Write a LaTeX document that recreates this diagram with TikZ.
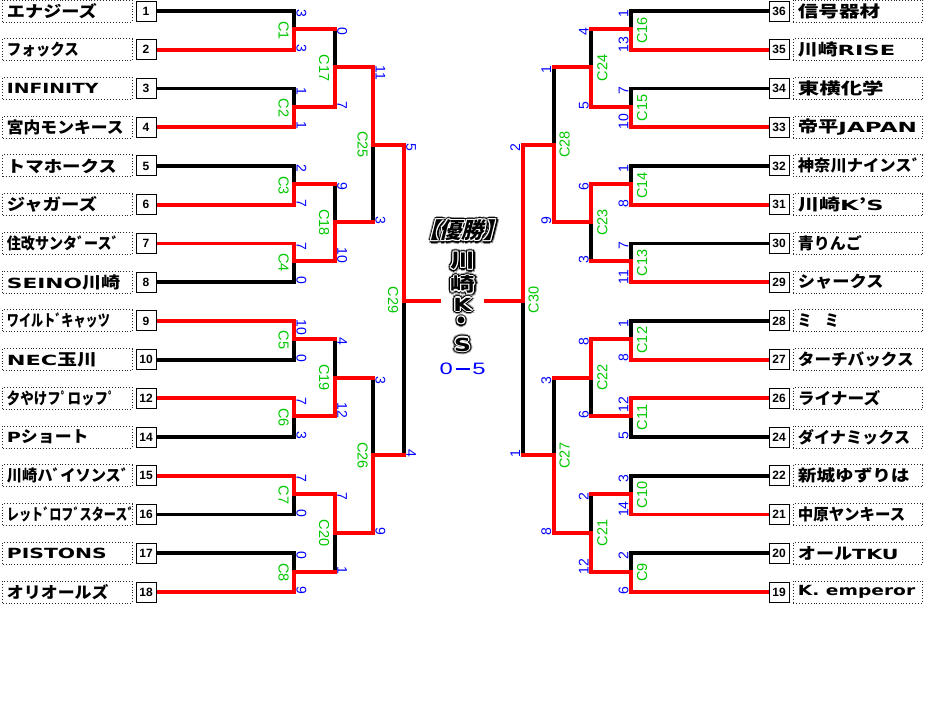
\documentclass[tikz,border=0pt]{standalone}
\usepackage{fontspec}
\setmainfont{Liberation Sans}
\newfontfamily\jp{Noto Sans CJK JP}
\newfontfamily\jpw{Noto Sans CJK JP}[FakeStretch=1.3]
\newfontfamily\jpsl{Noto Sans CJK JP}[FakeSlant=0.25]
\newfontfamily\lat{DejaVu Sans}[FakeStretch=1.3]
\definecolor{wred}{RGB}{255,0,0}
\definecolor{sblue}{RGB}{0,0,255}
\definecolor{cgreen}{RGB}{0,200,0}
\pgfdeclarelayer{bg}\pgfdeclarelayer{wires}
\pgfsetlayers{bg,wires,main}
\newcommand\fitname[2]{\resizebox{#1pt}{\height}{#2}}
\newcommand\la[1]{{\fontsize{14}{14}\lat #1}}
\newcommand\lmatch[6]{%
  \node[clab, rotate=-90] (#4) at ({#1-10.5}, {(#2+#3)/2}) {#4};
  \node[sc, rotate=-90, anchor=west] (#4t) at ({#1+7.5}, {#2-1.5}) {#5};
  \node[sc, rotate=-90, anchor=east] (#4b) at ({#1+7.5}, {#3+2.5}) {#6};}
\newcommand\rmatch[6]{%
  \node[clab, rotate=90] (#4) at ({#1+11}, {(#2+#3)/2}) {#4};
  \node[sc, rotate=90, anchor=east] (#4t) at ({#1-7.5}, {#2-1.5}) {#5};
  \node[sc, rotate=90, anchor=west] (#4b) at ({#1-7.5}, {#3+2.5}) {#6};}
\newcommand\halotext[4]{%
  \foreach \a in {0,45,...,315}{\node[name=#1g\a, text=black!40, font=#3, inner sep=0] at ([shift={(\a:3.4)}]#2) {#4};}%
  \foreach \a in {0,45,...,315}{\node[name=#1k\a, text=black, font=#3, inner sep=0] at ([shift={(\a:2.4)}]#2) {#4};}%
  \foreach \a in {0,45,...,315}{\node[name=#1w\a, text=white, font=#3, inner sep=0] at ([shift={(\a:1.2)}]#2) {#4};}%
  \node[name=#1, text=black, font=#3, inner sep=0] at (#2) {#4};}
\begin{document}
\begin{tikzpicture}[x=1pt,y=-1pt,
  blk/.style={line width=3.8, black, line cap=rect, line join=miter},
  redl/.style={line width=3.8, wred, line cap=rect, line join=miter},
  numbox/.style={draw=black, line width=0.9, fill=white, minimum width=20, minimum height=20, inner sep=0, font=\fontsize{12}{12}\selectfont\bfseries},
  namebox/.style={draw=black!85, dotted, line width=0.9, fill=white, minimum width=129.5, minimum height=22, inner sep=0},
  nametext/.style={inner sep=0, anchor=west, font=\fontsize{16}{16}\jp\bfseries},
  clab/.style={text=cgreen, inner sep=0, font=\fontsize{14.5}{14.5}\selectfont},
  sc/.style={text=sblue, inner sep=0, font=\fontsize{14}{14}\selectfont},
]
\useasboundingbox (0,0) rectangle (928,720);
\begin{pgfonlayer}{bg}
  \fill[white] (0,0) rectangle (928,720);
\end{pgfonlayer}

% left teams
\foreach \nn/\ww/\txt [count=\i from 0] in {1/90/エナジーズ, 2/72/フォックス, 3/91.7/\la{INFINITY}, 4/116.7/宮内モンキース,
  5/110/トマホークス, 6/90/ジャガーズ, 7/111.7/住改サンタﾞースﾞ, 8/113.3/\la{SEINO}川崎,
  9/103/ワイルトﾞキャッツ, 10/90/\la{NEC}玉川, 12/108/夕やけフﾟロッフﾟ, 14/81.7/\la{P}ショート,
  15/121.7/川崎ハﾞイソンスﾞ, 16/126.7/レットﾞロフﾞスタースﾞ, 17/100/\la{PISTONS}, 18/101.7/オリオールズ}{
  \pgfmathsetmacro\yy{11+38.7333*\i}
  \node[namebox] (lnm\i) at (67.5,\yy) {};
  \node[numbox] (lnb\i) at (146,\yy) {\nn};
  \node[nametext] (lnt\i) at (6.7,\yy) {\fitname{\ww}{\txt}};
  \coordinate (la\i) at (294,\yy);
}
% right teams
\foreach \nn/\ww/\txt [count=\i from 0] in {36/82.3/信号器材, 35/97.3/川崎\la{RISE}, 34/85.7/東横化学, 33/119/帝平\la{JAPAN},
  32/122/神奈川ナインスﾞ, 31/85.7/川崎\la{K}’\la{S}, 30/64/青りんご, 29/85.7/シャークス,
  28/40.7/ミ　ミ, 27/115.7/ターチバックス, 26/82.3/ライナーズ, 24/112.3/ダイナミックス,
  22/111.7/新城ゆずりは, 21/107.3/中原ヤンキース, 20/100.7/オール\la{TKU}, 19/117.3/\la{K. emperor}}{
  \pgfmathsetmacro\yy{11+38.7333*\i}
  \node[namebox] (rnm\i) at (858,\yy) {};
  \node[numbox] (rnb\i) at (779,\yy) {\nn};
  \node[nametext] (rnt\i) at (797.7,\yy) {\fitname{\ww}{\txt}};
  \coordinate (ra\i) at (631,\yy);
}
% junctions
\foreach \s [count=\k] in {29,107,184,261,339,416,494,572}{
  \coordinate (lm1\k) at (294,\s); \coordinate (lb\k) at (334.7,\s);
  \coordinate (rm1\k) at (631,\s); \coordinate (rb\k) at (591.3,\s);}
\foreach \s [count=\k] in {67,222,378,533}{
  \coordinate (lm2\k) at (334.7,\s); \coordinate (lc\k) at (373,\s);
  \coordinate (rm2\k) at (591.3,\s); \coordinate (rc\k) at (553.7,\s);}
\foreach \s [count=\k] in {145,455}{
  \coordinate (lm3\k) at (373,\s); \coordinate (ld\k) at (403.7,\s);
  \coordinate (rm3\k) at (553.7,\s); \coordinate (rd\k) at (522.7,\s);}
\coordinate (lm4) at (403.7,301); \coordinate (lend) at (439,301);
\coordinate (rm4) at (522.7,301); \coordinate (rend) at (486,301);

\begin{pgfonlayer}{wires}
  % losers (black)
  \foreach \k/\wi/\lo in {1/1/0,2/3/2,3/5/4,4/6/7,5/8/9,6/10/11,7/12/13,8/15/14}{\draw[blk] (lnb\lo.east) -- (la\lo) -- (lm1\k);}
  \foreach \k/\wi/\lo in {1/1/0,2/3/2,3/5/4,4/7/6,5/9/8,6/10/11,7/13/12,8/15/14}{\draw[blk] (rnb\lo.west) -- (ra\lo) -- (rm1\k);}
  \foreach \k/\wi/\lo in {1/2/1,2/4/3,3/6/5,4/7/8}{\draw[blk] (lb\lo) -- (lm2\k);}
  \foreach \k/\wi/\lo in {1/2/1,2/3/4,3/5/6,4/8/7}{\draw[blk] (rb\lo) -- (rm2\k);}
  \foreach \k/\wi/\lo in {1/1/2,2/4/3}{\draw[blk] (lc\lo) -- (lm3\k);}
  \foreach \k/\wi/\lo in {1/2/1,2/4/3}{\draw[blk] (rc\lo) -- (rm3\k);}
  \draw[blk] (ld2) -- (lm4);
  \draw[blk] (rd2) -- (rm4);
  % winners (red)
  \foreach \k/\wi/\lo in {1/1/0,2/3/2,3/5/4,4/6/7,5/8/9,6/10/11,7/12/13,8/15/14}{\draw[redl] (lnb\wi.east) -- (la\wi) -- (lm1\k) -- (lb\k);}
  \foreach \k/\wi/\lo in {1/1/0,2/3/2,3/5/4,4/7/6,5/9/8,6/10/11,7/13/12,8/15/14}{\draw[redl] (rnb\wi.west) -- (ra\wi) -- (rm1\k) -- (rb\k);}
  \foreach \k/\wi/\lo in {1/2/1,2/4/3,3/6/5,4/7/8}{\draw[redl] (lb\wi) -- (lm2\k) -- (lc\k);}
  \foreach \k/\wi/\lo in {1/2/1,2/3/4,3/5/6,4/8/7}{\draw[redl] (rb\wi) -- (rm2\k) -- (rc\k);}
  \foreach \k/\wi/\lo in {1/1/2,2/4/3}{\draw[redl] (lc\wi) -- (lm3\k) -- (ld\k);}
  \foreach \k/\wi/\lo in {1/2/1,2/4/3}{\draw[redl] (rc\wi) -- (rm3\k) -- (rd\k);}
  \draw[redl] (ld1) -- (lm4) -- (lend);
  \draw[redl] (rd1) -- (rm4) -- (rend);
\end{pgfonlayer}

% match labels and scores, left
\lmatch{294}{11}{49.7}{C1}{3}{3}
\lmatch{294}{88.5}{127.2}{C2}{1}{1}
\lmatch{294}{165.9}{204.7}{C3}{2}{7}
\lmatch{294}{243.4}{282.1}{C4}{7}{0}
\lmatch{294}{320.8}{359.6}{C5}{10}{0}
\lmatch{294}{398.3}{437}{C6}{7}{3}
\lmatch{294}{475.8}{514.5}{C7}{7}{0}
\lmatch{294}{553.2}{592}{C8}{0}{9}
\lmatch{334.7}{29}{107}{C17}{0}{7}
\lmatch{334.7}{184}{261}{C18}{9}{10}
\lmatch{334.7}{339}{416}{C19}{4}{12}
\lmatch{334.7}{494}{572}{C20}{7}{1}
\lmatch{373}{67}{222}{C25}{11}{3}
\lmatch{373}{378}{533}{C26}{3}{9}
\lmatch{403.7}{145}{455}{C29}{5}{4}
% right
\rmatch{631}{11}{49.7}{C16}{1}{13}
\rmatch{631}{88.5}{127.2}{C15}{7}{10}
\rmatch{631}{165.9}{204.7}{C14}{1}{8}
\rmatch{631}{243.4}{282.1}{C13}{7}{11}
\rmatch{631}{320.8}{359.6}{C12}{1}{8}
\rmatch{631}{398.3}{437}{C11}{12}{5}
\rmatch{631}{475.8}{514.5}{C10}{3}{14}
\rmatch{631}{553.2}{592}{C9}{2}{6}
\rmatch{591.3}{29}{107}{C24}{4}{5}
\rmatch{591.3}{184}{261}{C23}{6}{3}
\rmatch{591.3}{339}{416}{C22}{8}{6}
\rmatch{591.3}{494}{572}{C21}{2}{12}
\rmatch{553.7}{67}{222}{C28}{1}{9}
\rmatch{553.7}{378}{533}{C27}{3}{8}
\rmatch{522.7}{145}{455}{C30}{2}{1}

% champion
\coordinate (pw) at (461.7,230.3);
\coordinate (pk1) at (463,261);
\coordinate (pk2) at (463,284.7);
\coordinate (pk3) at (462.5,304.5);
\coordinate (pk4) at (461.5,323.5);
\coordinate (pk5) at (462.5,344.5);
\halotext{win}{pw}{\fontsize{22}{22}\jpsl\bfseries}{【優勝】}
\halotext{ca}{pk1}{\fontsize{19}{19}\jpw\bfseries}{川}
\halotext{cb}{pk2}{\fontsize{19}{19}\jpw\bfseries}{崎}
\halotext{cc}{pk3}{\fontsize{18}{18}\lat\bfseries}{K}
\halotext{cd}{pk4}{\fontsize{24}{24}\jp\bfseries}{・}
\halotext{ce}{pk5}{\fontsize{18}{18}\lat\bfseries}{S}
\node[text=sblue, inner sep=0, font=\fontsize{16.5}{16.5}\selectfont] (final) at (462.5,369)
  {\resizebox{46pt}{\height}{0\kern2pt\raisebox{5pt}{\color{sblue}\rule{10pt}{2pt}}\kern1.5pt 5}};
\end{tikzpicture}
\end{document}
